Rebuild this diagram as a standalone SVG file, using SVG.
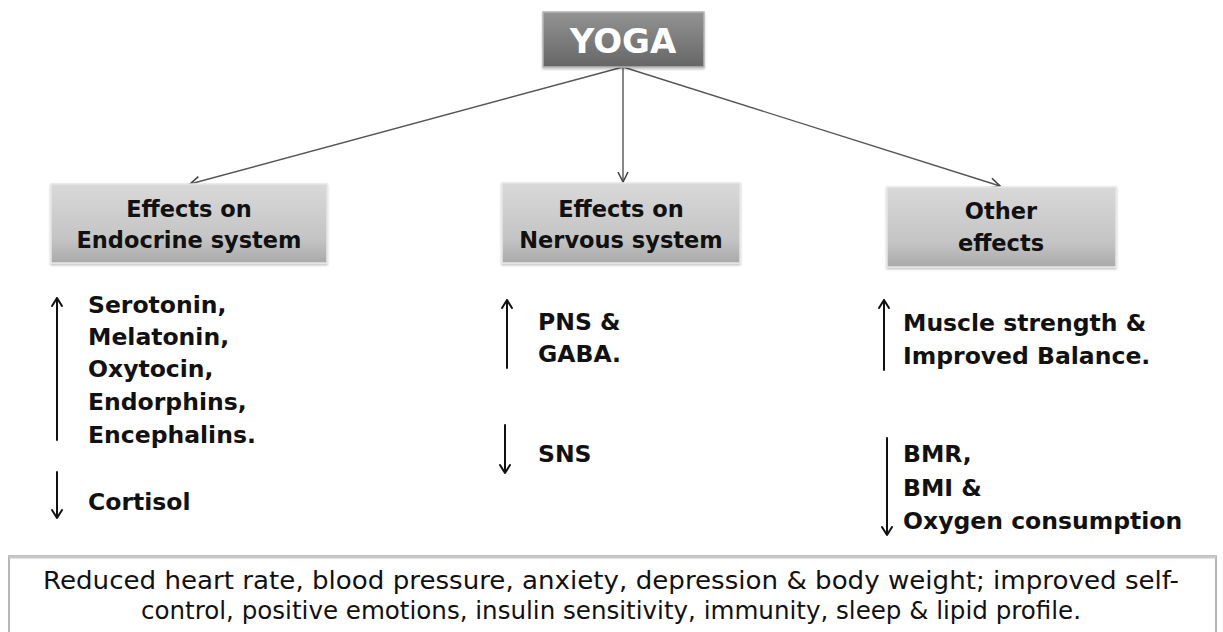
<svg xmlns="http://www.w3.org/2000/svg" width="1223" height="632" viewBox="0 0 1223 632">
<style>
.lbl{font-family:"DejaVu Sans","Liberation Sans",sans-serif;font-weight:bold;font-size:22.5px;fill:#111;text-anchor:middle}
.item{font-family:"DejaVu Sans","Liberation Sans",sans-serif;font-weight:bold;font-size:23.5px;fill:#111}
.foot{font-family:"DejaVu Sans","Liberation Sans",sans-serif;font-size:24px;fill:#111;text-anchor:middle}
.conn{stroke:#555;stroke-width:1.4;fill:none}
.ind{stroke:#111;stroke-width:2;fill:none;stroke-linecap:round;stroke-linejoin:round}
.effbox{fill:url(#gEff);stroke:#e6e6e6;stroke-width:1.5}
</style>
<defs>
<linearGradient id="gEff" x1="0" y1="0" x2="0" y2="1">
<stop offset="0" stop-color="#d9d9d9"/>
<stop offset="0.7" stop-color="#c4c4c4"/>
<stop offset="1" stop-color="#a9a9a9"/>
</linearGradient>
<linearGradient id="gYoga" x1="0" y1="0" x2="0" y2="1">
<stop offset="0" stop-color="#939393"/>
<stop offset="1" stop-color="#666"/>
</linearGradient>
<filter id="sh" x="-5%" y="-5%" width="110%" height="120%">
<feDropShadow dx="0" dy="1.5" stdDeviation="1.2" flood-color="#000" flood-opacity="0.25"/>
</filter>
<marker id="ah" markerWidth="14" markerHeight="12" refX="11" refY="6" orient="auto" markerUnits="userSpaceOnUse">
<path d="M1,1 L11,6 L1,11" fill="none" stroke="#444" stroke-width="1.6"/>
</marker>
</defs>
<rect width="1223" height="632" fill="#fff"/>

<g id="connectors">
<line class="conn" x1="623" y1="67" x2="190" y2="184" marker-end="url(#ah)"/>
<line class="conn" x1="623" y1="67" x2="623" y2="182" marker-end="url(#ah)"/>
<line class="conn" x1="623" y1="67" x2="1000" y2="186" marker-end="url(#ah)"/>
</g>

<g id="yoga">
<rect x="543" y="12" width="161" height="55" fill="url(#gYoga)" stroke="#b5b5b5" stroke-width="1.5" filter="url(#sh)"/>
<text x="623" y="53" style="font-family:'DejaVu Sans','Liberation Sans',sans-serif;font-weight:bold;font-size:34px;fill:#fff;text-anchor:middle">YOGA</text>
</g>

<g id="endocrine">
<rect class="effbox" x="51" y="184" width="276" height="79" filter="url(#sh)"/>
<text class="lbl" x="189" y="217">Effects on</text>
<text class="lbl" x="189" y="248">Endocrine system</text>
</g>

<g id="nervous">
<rect class="effbox" x="502" y="183" width="238" height="80" filter="url(#sh)"/>
<text class="lbl" x="621" y="217">Effects on</text>
<text class="lbl" x="621" y="248">Nervous system</text>
</g>

<g id="other">
<rect class="effbox" x="887" y="187" width="229" height="80" filter="url(#sh)"/>
<text class="lbl" x="1001" y="219">Other</text>
<text class="lbl" x="1001" y="251">effects</text>
</g>

<g id="endocrine-list">
<path class="ind" d="M57,298 V440 M52,306 L57,298 L62,306"/>
<text class="item" x="88" y="313">Serotonin,</text>
<text class="item" x="88" y="345">Melatonin,</text>
<text class="item" x="88" y="377">Oxytocin,</text>
<text class="item" x="88" y="410">Endorphins,</text>
<text class="item" x="88" y="443">Encephalins.</text>
<path class="ind" d="M57,472 V518 M52,510 L57,518 L62,510"/>
<text class="item" x="88" y="510">Cortisol</text>
</g>

<g id="nervous-list">
<path class="ind" d="M507,300 V368 M502,308 L507,300 L512,308"/>
<text class="item" x="538" y="330">PNS &amp;</text>
<text class="item" x="538" y="362">GABA.</text>
<path class="ind" d="M505,425 V473 M500,465 L505,473 L510,465"/>
<text class="item" x="538" y="462">SNS</text>
</g>

<g id="other-list">
<path class="ind" d="M884,300 V370 M879,308 L884,300 L889,308"/>
<text class="item" x="903" y="331">Muscle strength &amp;</text>
<text class="item" x="903" y="364">Improved Balance.</text>
<path class="ind" d="M887,438 V535 M882,527 L887,535 L892,527"/>
<text class="item" x="903" y="462">BMR,</text>
<text class="item" x="903" y="496">BMI &amp;</text>
<text class="item" x="903" y="529">Oxygen consumption</text>
</g>

<g id="summary">
<rect x="9" y="556" width="1207" height="82" fill="#fff" stroke="#a0a0a0" stroke-width="1.5"/>
<line x1="9" y1="557" x2="1216" y2="557" stroke="#c8c8c8" stroke-width="3"/>
<text class="foot" x="611" y="589" textLength="1136" lengthAdjust="spacingAndGlyphs">Reduced heart rate, blood pressure, anxiety, depression &amp; body weight; improved self-</text>
<text class="foot" x="611" y="619" textLength="940" lengthAdjust="spacingAndGlyphs">control, positive emotions, insulin sensitivity, immunity, sleep &amp; lipid profile.</text>
</g>
</svg>
